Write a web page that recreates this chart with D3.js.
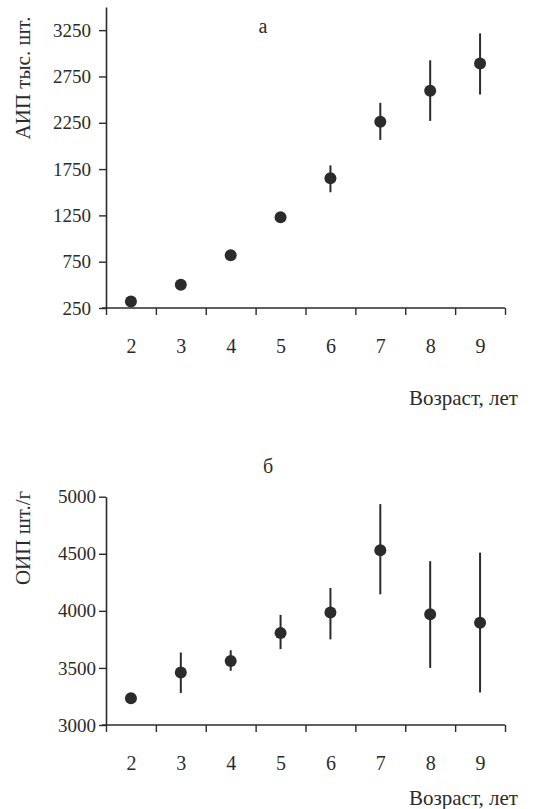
<!DOCTYPE html>
<html lang="ru">
<head>
<meta charset="UTF-8">
<title>АИП и ОИП по возрастам</title>
<style>
  body { margin: 0; background: #fff; }
  svg text { font-family: "Liberation Serif", "DejaVu Serif", serif; fill: #2b2b2b; }
</style>
</head>
<body>
<div id="chart"></div>
<script src="https://d3js.org/d3.v7.min.js"></script>
<script>
// ages (years)
var ages = [2, 3, 4, 5, 6, 7, 8, 9];

// panel "а": АИП, thousand pcs
var aipMean = [320, 500, 820, 1230, 1650, 2260, 2595, 2890];
var aipLow  = [320, 500, 820, 1190, 1500, 2065, 2270, 2555];
var aipHigh = [320, 500, 820, 1270, 1790, 2465, 2925, 3215];
var aipTicks = [250, 750, 1250, 1750, 2250, 2750, 3250];

// panel "б": ОИП, pcs/g
var oipMean = [3235, 3460, 3560, 3805, 3985, 4530, 3970, 3895];
var oipLow  = [3235, 3280, 3475, 3665, 3750, 4145, 3500, 3285];
var oipHigh = [3235, 3635, 3655, 3965, 4200, 4935, 4435, 4510];
var oipTicks = [3000, 3500, 4000, 4500, 5000];

var W = 546, H = 809;
var ink = "#2b2b2b";

var svg = d3.select("#chart").append("svg")
    .attr("width", W)
    .attr("height", H);

function panel(opt) {
    var g = svg.append("g");

    var x = d3.scaleLinear().domain([1.5, 9.5]).range([106, 505]);
    var y = d3.scaleLinear().domain(opt.domain).range([opt.bottom, opt.top]);

    // y axis
    var yAxis = g.append("g")
        .attr("transform", "translate(106,0)")
        .call(d3.axisLeft(y).tickValues(opt.ticks).tickSize(7).tickPadding(opt.pad)
            .tickSizeOuter(0).tickFormat(d3.format("d")));
    yAxis.select(".domain").attr("stroke", ink).attr("stroke-width", 1.6);
    yAxis.selectAll(".tick line").attr("stroke", ink).attr("stroke-width", 1.4);
    yAxis.selectAll(".tick text").attr("font-size", 19).attr("fill", ink)
        .style("font-family", "Liberation Serif, serif");

    // x axis: tick marks at band edges
    var edges = d3.range(1.5, 10, 1);
    var xAxis = g.append("g")
        .attr("transform", "translate(0," + opt.bottom + ")")
        .call(d3.axisBottom(x).tickValues(edges).tickSize(7).tickFormat("").tickSizeOuter(0));
    xAxis.select(".domain").attr("stroke", ink).attr("stroke-width", 1.6)
        .attr("d", "M" + (x(1.5) - 4) + ",0H" + x(9.5));
    xAxis.selectAll(".tick line").attr("stroke", ink).attr("stroke-width", 1.4);

    // x labels between ticks
    var xLab = g.append("g")
        .attr("transform", "translate(0," + opt.bottom + ")")
        .call(d3.axisBottom(x).tickValues(ages).tickSize(0).tickPadding(opt.labPad).tickFormat(d3.format("d")));
    xLab.select(".domain").remove();
    xLab.selectAll("text").attr("font-size", 20).attr("fill", ink)
        .style("font-family", "Liberation Serif, serif");

    // vertical axis title
    g.append("text")
        .attr("transform", "translate(30," + opt.titleY + ") rotate(-90)")
        .attr("text-anchor", "middle")
        .attr("font-size", 21)
        .text(opt.yTitle);

    // x axis title
    g.append("text")
        .attr("x", 518).attr("y", opt.xTitleY)
        .attr("text-anchor", "end")
        .attr("font-size", 21)
        .text("Возраст, лет");

    // panel letter
    g.append("text")
        .attr("x", opt.letterX).attr("y", opt.letterY)
        .attr("text-anchor", "middle")
        .attr("font-size", 20)
        .text(opt.letter);

    // error bars
    g.selectAll(".err")
        .data(ages)
        .enter().append("line")
        .attr("x1", function (d) { return x(d); })
        .attr("x2", function (d) { return x(d); })
        .attr("y1", function (d, i) { return y(opt.low[i]); })
        .attr("y2", function (d, i) { return y(opt.high[i]); })
        .attr("stroke", ink)
        .attr("stroke-width", 2);

    // means
    g.selectAll(".pt")
        .data(ages)
        .enter().append("circle")
        .attr("cx", function (d) { return x(d); })
        .attr("cy", function (d, i) { return y(opt.mean[i]); })
        .attr("r", 6)
        .attr("fill", ink);
}

panel({
    domain: [250, 3500], top: 7, bottom: 308,
    ticks: aipTicks, pad: 8, labPad: 31,
    mean: aipMean, low: aipLow, high: aipHigh,
    yTitle: "АИП тыс. шт.", titleY: 78,
    xTitleY: 405, letter: "а", letterX: 263, letterY: 33
});

panel({
    domain: [3000, 5000], top: 496.7, bottom: 725,
    ticks: oipTicks, pad: 3, labPad: 31,
    mean: oipMean, low: oipLow, high: oipHigh,
    yTitle: "ОИП шт./г", titleY: 538,
    xTitleY: 805, letter: "б", letterX: 268, letterY: 473
});
</script>
</body>
</html>
